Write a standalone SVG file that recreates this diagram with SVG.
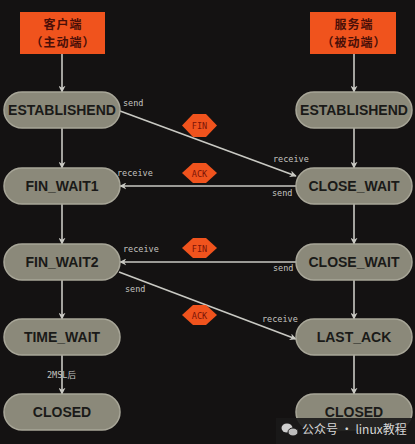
<svg xmlns="http://www.w3.org/2000/svg" width="415" height="444" viewBox="0 0 415 444">
<style>
.bg{fill:#141212}
.hdr rect{fill:#f0531d}
.hdr text{font-family:"Noto Sans CJK SC","Noto Sans CJK JP",sans-serif;font-size:12px;fill:#4a0f08;text-anchor:middle;font-weight:bold;letter-spacing:1px}
.st rect{fill:#8b897a;stroke:#a8a698;stroke-width:1.5}
.st text{font-family:"Liberation Sans",Arial,sans-serif;font-weight:bold;font-size:14px;fill:#1a1a18;text-anchor:middle}
.lbl{font-family:"DejaVu Sans Mono","Liberation Mono",monospace;font-size:8.5px;fill:#c4c4c0}
.msg polygon{fill:#f0531d}
.msg text{font-family:"DejaVu Sans Mono","Liberation Mono",monospace;font-size:8.5px;fill:#7a1408;text-anchor:middle}
#connectors line{stroke:#c9c9c3;stroke-width:1.6;fill:none;marker-end:url(#arr)}
</style>
<defs>
<marker id="arr" viewBox="0 0 10 10" refX="9" refY="5" markerWidth="7" markerHeight="7" markerUnits="userSpaceOnUse" orient="auto">
<path d="M0,0 L10,5 L0,10 L3,5 z" fill="#c9c9c3"/>
</marker>
</defs>
<rect class="bg" x="0" y="0" width="415" height="444"/>

<g id="connectors">
<line x1="62" y1="54" x2="62" y2="92"/>
<line x1="62" y1="128" x2="62" y2="168"/>
<line x1="62" y1="204" x2="62" y2="244"/>
<line x1="62" y1="280" x2="62" y2="319"/>
<line x1="62" y1="355" x2="62" y2="394"/>
<line x1="354" y1="54" x2="354" y2="92"/>
<line x1="354" y1="128" x2="354" y2="168"/>
<line x1="354" y1="204" x2="354" y2="244"/>
<line x1="354" y1="280" x2="354" y2="319"/>
<line x1="354" y1="355" x2="354" y2="394"/>
<line x1="120" y1="111" x2="296" y2="176"/>
<line x1="296" y1="186" x2="120" y2="186"/>
<line x1="296" y1="262" x2="120" y2="262"/>
<line x1="119" y1="272" x2="296" y2="339"/>
</g>

<g id="client" class="hdr">
<rect x="20" y="12" width="85" height="42"/>
<text x="63" y="28.5">客户端</text>
<text x="63" y="46.5">（主动端）</text>
</g>
<g id="server" class="hdr">
<rect x="310" y="12" width="86" height="42"/>
<text x="354" y="28.5">服务端</text>
<text x="354" y="46.5">（被动端）</text>
</g>

<g id="c_established" class="st"><rect x="4" y="92" width="116" height="36" rx="18"/><text x="62" y="115">ESTABLISHEND</text></g>
<g id="c_fin_wait1" class="st"><rect x="4" y="168" width="116" height="36" rx="18"/><text x="62" y="191">FIN_WAIT1</text></g>
<g id="c_fin_wait2" class="st"><rect x="4" y="244" width="116" height="36" rx="18"/><text x="62" y="267">FIN_WAIT2</text></g>
<g id="c_time_wait" class="st"><rect x="4" y="319" width="116" height="36" rx="18"/><text x="62" y="342">TIME_WAIT</text></g>
<g id="c_closed" class="st"><rect x="4" y="394" width="116" height="36" rx="18"/><text x="62" y="417">CLOSED</text></g>

<g id="s_established" class="st"><rect x="296" y="92" width="116" height="36" rx="18"/><text x="354" y="115">ESTABLISHEND</text></g>
<g id="s_close_wait1" class="st"><rect x="296" y="168" width="116" height="36" rx="18"/><text x="354" y="191">CLOSE_WAIT</text></g>
<g id="s_close_wait2" class="st"><rect x="296" y="244" width="116" height="36" rx="18"/><text x="354" y="267">CLOSE_WAIT</text></g>
<g id="s_last_ack" class="st"><rect x="296" y="319" width="116" height="36" rx="18"/><text x="354" y="342">LAST_ACK</text></g>
<g id="s_closed" class="st"><rect x="296" y="394" width="116" height="36" rx="18"/><text x="354" y="417">CLOSED</text></g>

<g id="msg_fin1" class="msg"><polygon points="182,125.5 193,114 206,114 217,125.5 206,137 193,137"/><text x="199.5" y="129">FIN</text></g>
<g id="msg_ack1" class="msg"><polygon points="182,173 193,163 206,163 217,173 206,183 193,183"/><text x="199.5" y="176.5">ACK</text></g>
<g id="msg_fin2" class="msg"><polygon points="182,248 193,238 206,238 217,248 206,258 193,258"/><text x="199.5" y="251.5">FIN</text></g>
<g id="msg_ack2" class="msg"><polygon points="182,315 193,305 206,305 217,315 206,325 193,325"/><text x="199.5" y="318.5">ACK</text></g>

<g id="labels">
<text class="lbl" x="123" y="106">send</text>
<text class="lbl" x="273" y="162">receive</text>
<text class="lbl" x="117" y="176">receive</text>
<text class="lbl" x="272" y="196">send</text>
<text class="lbl" x="123" y="252">receive</text>
<text class="lbl" x="273" y="271">send</text>
<text class="lbl" x="125" y="292">send</text>
<text class="lbl" x="262" y="322">receive</text>
<text class="lbl" x="47" y="378" style="font-family:'DejaVu Sans Mono','Noto Sans CJK SC',monospace">2MSL后</text>
</g>

<g id="watermark">
<rect x="276" y="418" width="139" height="26" fill="#1a1919" fill-opacity="0.9"/>
<ellipse cx="287" cy="428" rx="5.5" ry="4.5" fill="#cfcfcf"/>
<ellipse cx="293" cy="432" rx="5" ry="4" fill="#bdbdbd" stroke="#1a1919" stroke-width="1"/>
<text x="302" y="434" style="font-family:'Noto Sans CJK SC',sans-serif;font-size:12px;fill:#d6d6d6">公众号 · linux教程</text>
</g>
</svg>
